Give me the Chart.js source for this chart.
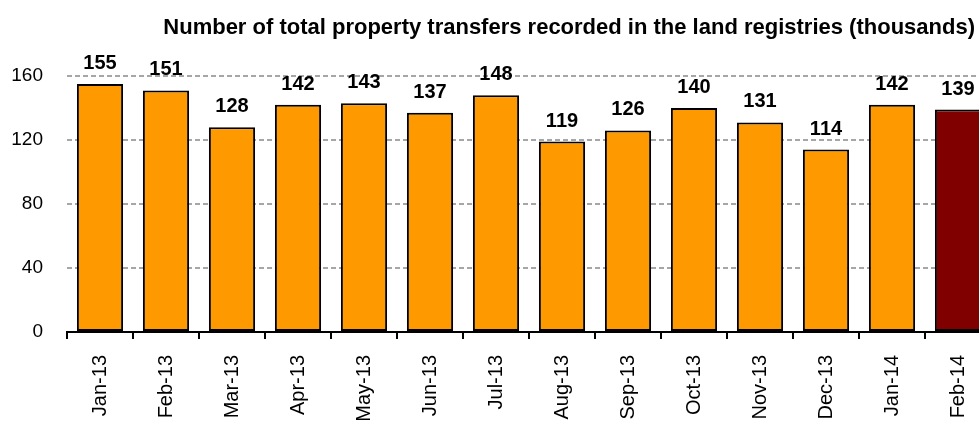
<!DOCTYPE html>
<html>
<head>
<meta charset="utf-8">
<script src="https://cdn.jsdelivr.net/npm/chart.js@4.4.1/dist/chart.umd.min.js"></script>
<style>
    html, body { margin: 0; padding: 0; background: #fff; overflow: hidden; }
    #wrap { position: relative; width: 1000px; height: 425px; }
</style>
</head>
<body>
<div id="wrap"><canvas id="transfers"></canvas></div>
<script>
    'use strict';

    const TITLE = 'Number of total property transfers recorded in the land registries (thousands)';
    const months = ['Jan-13', 'Feb-13', 'Mar-13', 'Apr-13', 'May-13', 'Jun-13', 'Jul-13',
                    'Aug-13', 'Sep-13', 'Oct-13', 'Nov-13', 'Dec-13', 'Jan-14', 'Feb-14'];
    const transfers = [155, 151, 128, 142, 143, 137, 148, 119, 126, 140, 131, 114, 142, 139];
    const yTicks = [0, 40, 80, 120, 160];

    const ORANGE = '#ff9900';
    const LATEST = '#800000';
    const FONT = "Arial, 'Liberation Sans', sans-serif";

    // value labels above each bar
    const barLabels = {
        id: 'barLabels',
        afterDatasetsDraw: function(chart) {
            const ctx = chart.ctx;
            const meta = chart.getDatasetMeta(0);
            ctx.save();
            ctx.font = 'bold 20px ' + FONT;
            ctx.fillStyle = '#000';
            ctx.textAlign = 'center';
            ctx.textBaseline = 'alphabetic';
            meta.data.forEach(function(bar, i) {
                ctx.fillText(String(transfers[i]), bar.x, bar.y - 15);
            });
            ctx.restore();
        }
    };

    // title sits right-aligned over the plot, like the source
    const topTitle = {
        id: 'topTitle',
        afterDraw: function(chart) {
            const ctx = chart.ctx;
            ctx.save();
            ctx.font = 'bold 22px ' + FONT;
            ctx.fillStyle = '#000';
            ctx.textAlign = 'right';
            ctx.textBaseline = 'alphabetic';
            ctx.fillText(TITLE, 975, 34);
            ctx.restore();
        }
    };

    new Chart(document.getElementById('transfers'), {
        type: 'bar',
        data: {
            labels: months,
            datasets: [{
                data: transfers,
                backgroundColor: transfers.map(function(v, i) { return i === transfers.length - 1 ? LATEST : ORANGE; }),
                borderColor: '#000',
                borderWidth: 2,
                borderSkipped: false,
                categoryPercentage: 1,
                barPercentage: 0.7
            }]
        },
        options: {
            responsive: true,
            maintainAspectRatio: false,
            animation: false,
            devicePixelRatio: 1,
            layout: { padding: { top: 76, right: 9, left: 0, bottom: 0 } },
            plugins: {
                legend: { display: false },
                title: { display: false },
                tooltip: { enabled: false }
            },
            scales: {
                x: {
                    offset: true,
                    grid: {
                        offset: true,
                        drawOnChartArea: false,
                        drawTicks: true,
                        tickLength: 7,
                        color: '#000',
                        lineWidth: 2
                    },
                    border: { display: true, color: '#000', width: 2 },
                    ticks: {
                        color: '#000',
                        font: { family: FONT, size: 20 },
                        minRotation: 90,
                        maxRotation: 90,
                        padding: 16,
                        autoSkip: false
                    },
                    afterFit: function(scale) { scale.height = 93; }
                },
                y: {
                    min: 0,
                    max: 160,
                    afterBuildTicks: function(scale) {
                        scale.ticks = yTicks.map(function(v) { return { value: v }; });
                    },
                    grid: {
                        drawTicks: false,
                        color: function(c) { return c.tick && c.tick.value === 0 ? 'rgba(0,0,0,0)' : '#a6a6a6'; },
                        lineWidth: 2
                    },
                    border: { display: false, dash: [5, 3] },
                    ticks: {
                        color: '#000',
                        font: { family: FONT, size: 19 },
                        padding: 24
                    },
                    afterFit: function(scale) { scale.width = 67; }
                }
            }
        },
        plugins: [barLabels, topTitle]
    });
</script>
</body>
</html>
